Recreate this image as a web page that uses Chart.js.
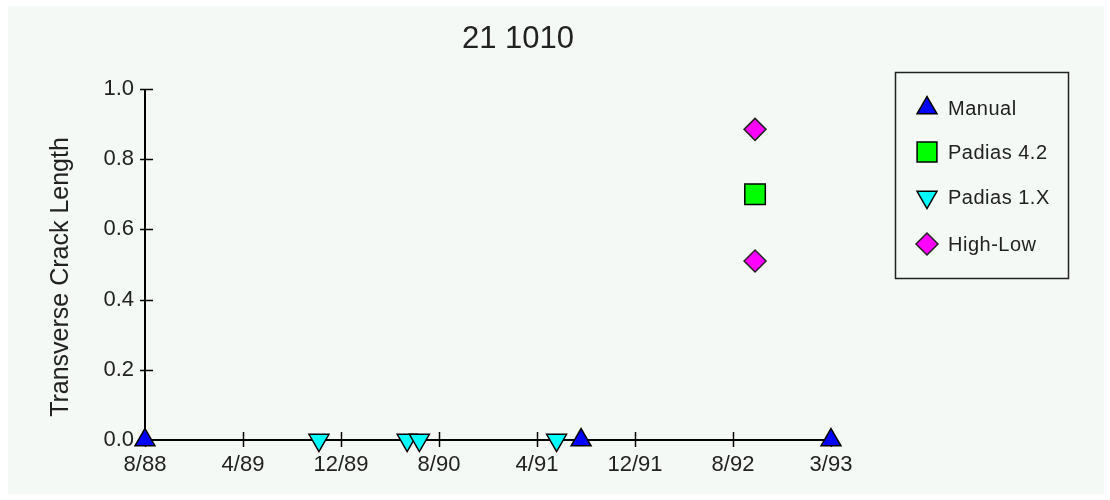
<!DOCTYPE html>
<html>
<head>
<meta charset="utf-8">
<script src="https://cdn.jsdelivr.net/npm/chart.js@4/dist/chart.umd.min.js"></script>
<style>
  html, body { margin: 0; padding: 0; background: #ffffff; }
  #wrap { position: relative; width: 1110px; height: 500px; }
</style>
</head>
<body>
<div id="wrap"><canvas id="c" width="1110" height="500"></canvas></div>
<script>
// ---- data (x = months since 8/88) ----
const chartTitle = '21 1010';
const yAxisTitle = 'Transverse Crack Length';
const xTickValues = [0, 8, 16, 24, 32, 40, 48, 56];
const xTickLabels = ['8/88', '4/89', '12/89', '8/90', '4/91', '12/91', '8/92', '3/93'];
const seriesNames = ['Manual', 'Padias 4.2', 'Padias 1.X', 'High-Low'];
const manualX = [0, 35.6, 56];
const manualY = [0, 0, 0];
const padias42X = [49.8];
const padias42Y = [0.70];
const padias1X = [14.2, 21.4, 22.4, 33.6];
const padias1Y = [0, 0, 0, 0];
const highLowX = [49.8, 49.8];
const highLowY = [0.885, 0.51];

function pts(xs, ys) { return xs.map((x, i) => ({ x: x, y: ys[i] })); }

const BG = '#f4f9f5';

const decor = {
  id: 'decor',
  beforeDraw(chart) {
    const ctx = chart.ctx;
    ctx.save();
    ctx.fillStyle = BG;
    ctx.fillRect(8, 6, 1096, 488);
    ctx.restore();
  },
  beforeDatasetsDraw(chart) {
    const ctx = chart.ctx;
    const xs = chart.scales.x, ys = chart.scales.y;
    const area = chart.chartArea;
    ctx.save();
    ctx.strokeStyle = '#000';
    ctx.lineWidth = 2;
    // axis lines
    ctx.beginPath();
    ctx.moveTo(area.left, area.top);
    ctx.lineTo(area.left, area.bottom);
    ctx.lineTo(area.right, area.bottom);
    ctx.stroke();
    // crossing ticks
    ctx.lineWidth = 1.5;
    ctx.beginPath();
    ys.ticks.forEach(t => {
      const p = Math.round(ys.getPixelForValue(t.value)) + 0.5;
      ctx.moveTo(area.left - 5, p);
      ctx.lineTo(area.left + 8, p);
    });
    xTickValues.forEach(v => {
      const p = Math.round(xs.getPixelForValue(v)) + 0.5;
      ctx.moveTo(p, area.bottom - 8);
      ctx.lineTo(p, area.bottom + 7);
    });
    ctx.stroke();
    ctx.restore();
  },
  afterDraw(chart) {
    const ctx = chart.ctx;
    ctx.save();
    // title
    ctx.fillStyle = '#222';
    ctx.font = '31px "Liberation Sans", Arial, sans-serif';
    ctx.textAlign = 'center';
    ctx.textBaseline = 'middle';
    ctx.fillText(chartTitle, 518, 39);
    // y title
    ctx.save();
    ctx.translate(61, 277);
    ctx.rotate(-Math.PI / 2);
    ctx.font = '25px "Liberation Sans", Arial, sans-serif';
    ctx.fillText(yAxisTitle, 0, 0);
    ctx.restore();
    // legend box
    ctx.strokeStyle = '#222';
    ctx.lineWidth = 1.5;
    ctx.strokeRect(895.5, 72.5, 173, 206);
    const rowsY = [108, 152, 197, 244];
    ctx.font = '20px "Liberation Sans", Arial, sans-serif';
    ctx.textAlign = 'left';
    try { ctx.letterSpacing = '0.5px'; } catch (e) {}
    chart.data.datasets.forEach((ds, i) => {
      const y = rowsY[i];
      ctx.save();
      ctx.fillStyle = ds.backgroundColor;
      ctx.strokeStyle = ds.borderColor;
      ctx.lineWidth = 1.5;
      Chart.helpers.drawPoint(ctx, {
        pointStyle: ds.pointStyle,
        radius: ds.legendRadius,
        rotation: ds.pointRotation || 0,
        borderWidth: 1.5
      }, 927, y);
      ctx.restore();
      ctx.fillStyle = '#222';
      ctx.fillText(ds.label, 948, y + 1);
    });
    ctx.restore();
  }
};

new Chart(document.getElementById('c'), {
  type: 'scatter',
  data: {
    datasets: [
      { label: seriesNames[0], data: pts(manualX, manualY), pointStyle: 'triangle', pointRadius: 11.5, legendRadius: 11.5,
        backgroundColor: '#0000ff', borderColor: '#000', borderWidth: 1.5, clip: false },
      { label: seriesNames[1], data: pts(padias42X, padias42Y), pointStyle: 'rect', pointRadius: 14.5, legendRadius: 14,
        backgroundColor: '#00ff00', borderColor: '#000', borderWidth: 1.5, clip: false },
      { label: seriesNames[2], data: pts(padias1X, padias1Y), pointStyle: 'triangle', pointRotation: 180, pointRadius: 11.5, legendRadius: 11.5,
        backgroundColor: '#00ffff', borderColor: '#000', borderWidth: 1.5, clip: false },
      { label: seriesNames[3], data: pts(highLowX, highLowY), pointStyle: 'rectRot', pointRadius: 11, legendRadius: 11,
        backgroundColor: '#ff00ff', borderColor: '#222', borderWidth: 1.5, clip: false }
    ]
  },
  options: {
    responsive: false,
    animation: false,
    layout: { padding: { left: 0, top: 89, right: 279, bottom: 0 } },
    plugins: { legend: { display: false }, title: { display: false }, tooltip: { enabled: false } },
    scales: {
      x: {
        type: 'linear', min: 0, max: 56,
        afterFit(s) { s.height = 60; },
        afterBuildTicks(s) { s.ticks = xTickValues.map(v => ({ value: v })); },
        grid: { display: false, drawTicks: false },
        border: { display: false },
        ticks: {
          autoSkip: false, maxRotation: 0, padding: 12, color: '#222',
          font: { family: '"Liberation Sans", Arial, sans-serif', size: 22 },
          callback(v) { const i = xTickValues.indexOf(v); return i >= 0 ? xTickLabels[i] : ''; }
        }
      },
      y: {
        type: 'linear', min: 0, max: 1,
        afterFit(s) { s.width = 145; },
        grid: { display: false, drawTicks: false },
        border: { display: false },
        ticks: {
          stepSize: 0.2, padding: 11, color: '#222',
          font: { family: '"Liberation Sans", Arial, sans-serif', size: 22 },
          callback(v) { return Number(v).toFixed(1); }
        }
      }
    }
  },
  plugins: [decor]
});
</script>
</body>
</html>
